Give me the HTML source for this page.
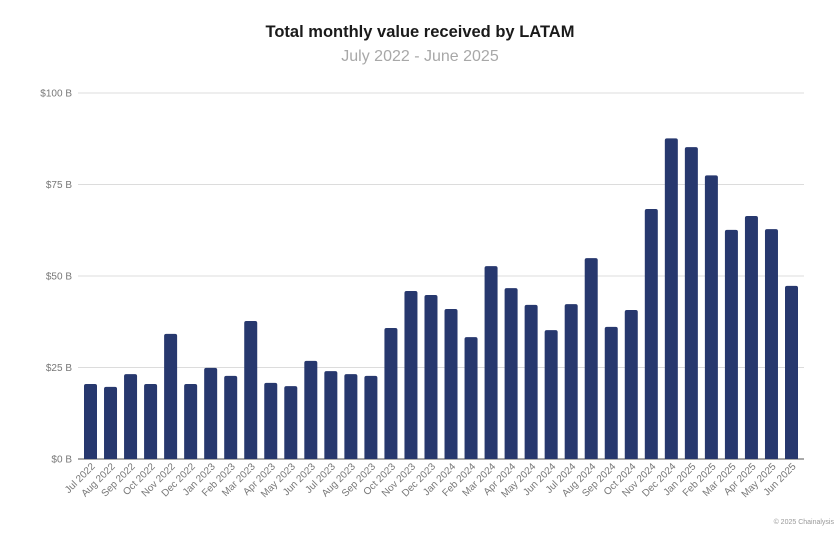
<!DOCTYPE html>
<html><head><meta charset="utf-8"><style>
html,body{margin:0;padding:0;background:#fff;}
body{width:840px;height:528px;overflow:hidden;font-family:"Liberation Sans",sans-serif;}
</style></head><body>
<svg id="chart" width="840" height="528" xmlns="http://www.w3.org/2000/svg">
<text x="420" y="37" text-anchor="middle" font-size="16.5" font-weight="bold" fill="#1a1a1a">Total monthly value received by LATAM</text>
<text x="420" y="61" text-anchor="middle" font-size="16" fill="#a8a8a8">July 2022 - June 2025</text>
<g id="grid"></g>
<g id="bars"></g>
<g id="xlabels"></g>
<text x="834" y="524" text-anchor="end" font-size="7" fill="#999">© 2025 Chainalysis</text>
</svg>
<script>
const categories = ["Jul 2022","Aug 2022","Sep 2022","Oct 2022","Nov 2022","Dec 2022","Jan 2023","Feb 2023","Mar 2023","Apr 2023","May 2023","Jun 2023","Jul 2023","Aug 2023","Sep 2023","Oct 2023","Nov 2023","Dec 2023","Jan 2024","Feb 2024","Mar 2024","Apr 2024","May 2024","Jun 2024","Jul 2024","Aug 2024","Sep 2024","Oct 2024","Nov 2024","Dec 2024","Jan 2025","Feb 2025","Mar 2025","Apr 2025","May 2025","Jun 2025"];
const values = [20.5,19.7,23.2,20.5,34.2,20.5,24.9,22.7,37.7,20.8,19.9,26.8,24.0,23.2,22.7,35.8,45.9,44.8,41.0,33.3,52.7,46.7,42.1,35.2,42.3,54.9,36.1,40.7,68.3,87.6,85.2,77.5,62.6,66.4,62.8,47.3];
const yTicks = [0,25,50,75,100];
const yTickLabels = ["$0 B","$25 B","$50 B","$75 B","$100 B"];
const NS="http://www.w3.org/2000/svg";
const plotL=78, plotR=804, y0=459, y100=93;
const y = v => y0 - (v/100)*(y0-y100);
const firstC=90.5, lastC=791.5;
const step = (lastC-firstC)/(categories.length-1);
const x = i => firstC + step*i;
const bw = 13;
const grid=document.getElementById('grid'), bars=document.getElementById('bars'), xl=document.getElementById('xlabels');
yTicks.forEach((t,i)=>{
  const l=document.createElementNS(NS,'line');
  
  
  l.setAttribute('x1',plotL);l.setAttribute('x2',plotR);
  l.setAttribute('y1',y(t));l.setAttribute('y2',y(t));
  l.setAttribute('stroke',t===0?'#777':'#dcdcdc');l.setAttribute('stroke-width',t===0?1.2:1);
  grid.appendChild(l);
  const tx=document.createElementNS(NS,'text');
  
  
  tx.setAttribute('x',plotL-6);tx.setAttribute('y',y(t)+3.5);
  tx.setAttribute('text-anchor','end');tx.setAttribute('font-size','10');tx.setAttribute('fill','#777');
  tx.textContent=yTickLabels[i];
  grid.appendChild(tx);
});
values.forEach((v,i)=>{
  const r=document.createElementNS(NS,'path');
  
  
  const xl0=x(i)-bw/2, top=y(v), rr=2;
  r.setAttribute('d',`M${xl0},${y0} V${top+rr} Q${xl0},${top} ${xl0+rr},${top} H${xl0+bw-rr} Q${xl0+bw},${top} ${xl0+bw},${top+rr} V${y0} Z`);
  r.setAttribute('fill','#27386e');
  bars.appendChild(r);
});
categories.forEach((c,i)=>{
  const t=document.createElementNS(NS,'text');
  
  
  const cx=x(i)+5, cy=467;
  t.setAttribute('x',cx);t.setAttribute('y',cy);
  t.setAttribute('text-anchor','end');t.setAttribute('font-size','10');t.setAttribute('fill','#777');
  t.setAttribute('transform',`rotate(-45 ${cx} ${cy})`);
  t.textContent=c;
  xl.appendChild(t);
});
</script>
</body></html>
